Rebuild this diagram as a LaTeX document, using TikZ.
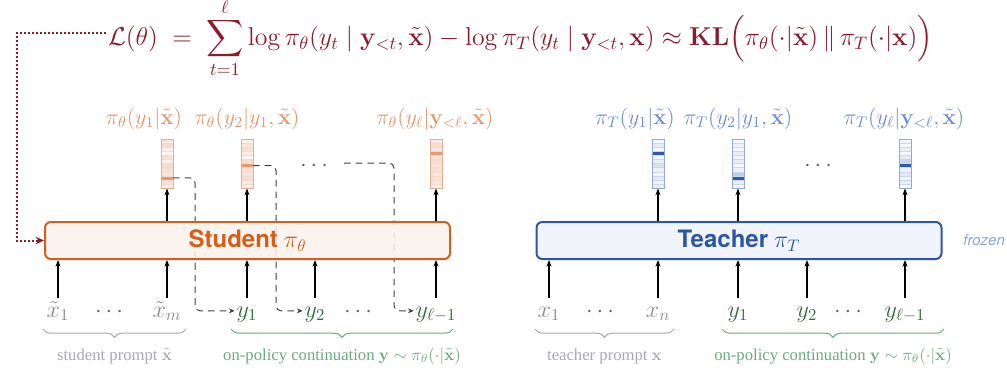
\RequirePackage{fix-cm}
\documentclass[tikz,border=0pt]{standalone}
\usepackage{amsmath}
\usepackage{amssymb}
\usepackage[no-math]{fontspec}
\setmainfont{Liberation Serif}
\setsansfont{TeX Gyre Heros}
\usepackage{xcolor}
\definecolor{lossred}{RGB}{140,28,44}
\definecolor{studorange}{RGB}{211,95,27}
\definecolor{studfill}{RGB}{251,241,235}
\definecolor{studlight}{RGB}{232,149,107}
\definecolor{studbar}{RGB}{227,154,115}
\definecolor{studedge}{RGB}{233,174,144}
\definecolor{teachblue}{RGB}{43,86,163}
\definecolor{teachfill}{RGB}{239,242,249}
\definecolor{teachlight}{RGB}{110,142,208}
\definecolor{teachbar}{RGB}{46,90,168}
\definecolor{teachedge}{RGB}{143,169,217}
\definecolor{tokgray}{RGB}{138,138,154}
\definecolor{tokgreen}{RGB}{47,110,60}
\definecolor{bracegray}{RGB}{168,168,180}
\definecolor{bracegreen}{RGB}{106,170,126}
\usetikzlibrary{arrows.meta, positioning, calc, decorations.pathreplacing}

% one output distribution: name, x, edge colour, cell colour, peak cell, shades
\newcommand{\distbar}[6]{%
  \foreach \s [count=\i from 0] in {#6}
    \filldraw[fill=#4!\s!white, draw=#3!45, line width=0.2pt]
      (#2-6,{139+\i*49/12}) rectangle (#2+6,{139+(\i+1)*49/12});
  \node[distbox, draw=#3] (#1) at (#2,163.5) {};
  \coordinate (#1-peak) at (#2+6,{139+(#5+0.5)*49/12});
}

\begin{document}
\begin{tikzpicture}[x=0.6pt, y=-0.6pt,
    modelbox/.style={rectangle, rounded corners=3.5pt, line width=1.2pt,
                     minimum width=243pt, minimum height=22.2pt, font=\Large,
                     fill opacity=0.88, text opacity=1},
    studbox/.style={modelbox, draw=studorange, fill=studfill, text=studorange},
    teachbox/.style={modelbox, draw=teachblue, fill=teachfill, text=teachblue},
    distbox/.style={rectangle, minimum width=7.2pt, minimum height=29.4pt,
                    inner sep=0pt, line width=0.6pt},
    studlbl/.style={anchor=base, text=studlight, font=\fontsize{13.2}{16}\selectfont},
    teachlbl/.style={anchor=base, text=teachlight, font=\fontsize{13.2}{16}\selectfont},
    tok/.style={anchor=base, font=\Large, text height=10.4pt, text depth=3pt, inner sep=1pt},
    prompttok/.style={tok, text=tokgray},
    conttok/.style={tok, text=tokgreen},
    dottok/.style={tok, text=black!60},
    bracelbl/.style={anchor=base, font=\normalsize},
    arr/.style={-{Stealth[length=4pt, width=3pt]}, line width=0.7pt},
    feedarr/.style={-{Stealth[length=3.5pt, width=3pt]}, line width=0.6pt, black!75,
                    dash pattern=on 4pt off 3pt, rounded corners=3pt},
    lossarr/.style={-{Stealth[length=5pt, width=4.5pt]}, lossred, line width=1.2pt,
                    dash pattern=on 1.2pt off 1.2pt},
    gbrace/.style={decorate, decoration={brace, mirror, amplitude=5pt}, line width=0.6pt},
]
\useasboundingbox (0,0) rectangle (1007,371);

% objective
\node[anchor=west, text=lossred, font=\fontsize{15.5}{18}\selectfont, inner sep=1pt] (loss) at (106,38)
  {$\displaystyle \mathcal{L}(\theta) \;=\; \sum_{t=1}^{\ell} \log \pi_\theta(y_t \mid \mathbf{y}_{<t}, \tilde{\mathbf{x}})
   - \log \pi_T(y_t \mid \mathbf{y}_{<t}, \mathbf{x}) \approx \mathbf{KL}\Big(\pi_\theta(\cdot|\tilde{\mathbf{x}}) \,\|\, \pi_T(\cdot|\mathbf{x})\Big)$};

% output distributions
\distbar{sb1}{167}{studedge}{studbar}{9}{25,35,15,8,30,15,35,30,25,100,30,20}
\distbar{sb2}{247}{studedge}{studbar}{6}{15,25,30,20,10,35,100,30,25,35,20,15}
\distbar{sb3}{436}{studedge}{studbar}{3}{20,35,25,100,30,35,25,30,20,30,25,15}
\distbar{tb1}{658}{teachedge}{teachbar}{3}{4,12,4,100,6,10,18,8,4,12,6,10}
\distbar{tb2}{738}{teachedge}{teachbar}{9}{4,8,4,10,6,12,4,8,30,100,10,6}
\distbar{tb3}{905}{teachedge}{teachbar}{6}{6,4,10,4,12,25,100,8,14,6,10,4}

\node[studlbl] (sl1) at (144,124) {$\pi_\theta(y_1|\tilde{\mathbf{x}})$};
\node[studlbl] (sl2) at (247,124) {$\pi_\theta(y_2|y_1,\tilde{\mathbf{x}})$};
\node[studlbl] (sl3) at (435,124) {$\pi_\theta(y_\ell|\mathbf{y}_{<\ell},\tilde{\mathbf{x}})$};
\node[teachlbl] (tl1) at (635,124) {$\pi_T(y_1|\tilde{\mathbf{x}})$};
\node[teachlbl] (tl2) at (738,124) {$\pi_T(y_2|y_1,\tilde{\mathbf{x}})$};
\node[teachlbl] (tl3) at (904,124) {$\pi_T(y_\ell|\mathbf{y}_{<\ell},\tilde{\mathbf{x}})$};

\node[dottok] (sdots) at (316,171) {$\cdots$};
\node[dottok] (tdots) at (820,171) {$\cdots$};

% input tokens
\node[prompttok] (sx1) at (58,317) {$\tilde{x}_1$};
\node[dottok] (sxd) at (111,317) {$\cdots$};
\node[prompttok] (sxm) at (167,317) {$\tilde{x}_m$};
\node[conttok] (sy1) at (247,317) {$y_1$};
\node[conttok] (sy2) at (315,317) {$y_2$};
\node[dottok] (syd) at (360,317) {$\cdots$};
\node[conttok] (syl) at (436,317) {$y_{\ell-1}$};

\node[prompttok] (tx1) at (549,317) {$x_1$};
\node[dottok] (txd) at (602,317) {$\cdots$};
\node[prompttok] (txn) at (658,317) {$x_n$};
\node[conttok] (ty1) at (738,317) {$y_1$};
\node[conttok] (ty2) at (807,317) {$y_2$};
\node[dottok] (tyd) at (850,317) {$\cdots$};
\node[conttok] (tyl) at (905,317) {$y_{\ell-1}$};

% sampled tokens fed back
\draw[feedarr] (sb1-peak) -- ++(22,0) |- (sy1.west);
\draw[feedarr] (sb2-peak) -- ++(23,0) |- (sy2.west);
\draw[feedarr] ([xshift=6pt]sdots.east |- 0,163) -- ++(50,0) |- (syl.west);

% models
\node[studbox] (sbox) at (247.5,240.5) {\textbf{\sffamily Student} $\pi_\theta$};
\node[teachbox] (tbox) at (739,240.5) {\textbf{\sffamily Teacher} $\pi_T$};
\node[right=9pt of tbox, text=teachlight!80, font=\small\sffamily\itshape] (frz) {frozen};

\draw[arr] (sbox.north -| sb1) -- (sb1.south);
\draw[arr] (sbox.north -| sb2) -- (sb2.south);
\draw[arr] (sbox.north -| sb3) -- (sb3.south);
\draw[arr] (tbox.north -| tb1) -- (tb1.south);
\draw[arr] (tbox.north -| tb2) -- (tb2.south);
\draw[arr] (tbox.north -| tb3) -- (tb3.south);

\draw[arr] (sx1.north) -- (sx1.north |- sbox.south);
\draw[arr] (sxm.north) -- (sxm.north |- sbox.south);
\draw[arr] (sy1.north) -- (sy1.north |- sbox.south);
\draw[arr] (sy2.north) -- (sy2.north |- sbox.south);
\draw[arr] (syl.north) -- (syl.north |- sbox.south);
\draw[arr] (tx1.north) -- (tx1.north |- tbox.south);
\draw[arr] (txn.north) -- (txn.north |- tbox.south);
\draw[arr] (ty1.north) -- (ty1.north |- tbox.south);
\draw[arr] (ty2.north) -- (ty2.north |- tbox.south);
\draw[arr] (tyl.north) -- (tyl.north |- tbox.south);

% objective drives the student
\draw[lossarr] ([yshift=3pt]loss.west) -- ++(-89,0) |- (sbox.west);

% braces
\draw[gbrace, bracegray] (43,329) -- (186,329);
\draw[gbrace, bracegreen] (231,329) -- (453,329);
\draw[gbrace, bracegray] (535,329) -- (674,329);
\draw[gbrace, bracegreen] (722,329) -- (944,329);
\node[bracelbl, text=bracegray] (sprompt) at (114.5,360) {student prompt $\tilde{\mathbf{x}}$};
\node[bracelbl, text=bracegreen] (scont) at (342,360) {on-policy continuation $\mathbf{y} \sim \pi_\theta(\cdot|\tilde{\mathbf{x}})$};
\node[bracelbl, text=bracegray] (tprompt) at (604.5,360) {teacher prompt $\mathbf{x}$};
\node[bracelbl, text=bracegreen] (tcont) at (833,360) {on-policy continuation $\mathbf{y} \sim \pi_\theta(\cdot|\tilde{\mathbf{x}})$};

\end{tikzpicture}
\end{document}
